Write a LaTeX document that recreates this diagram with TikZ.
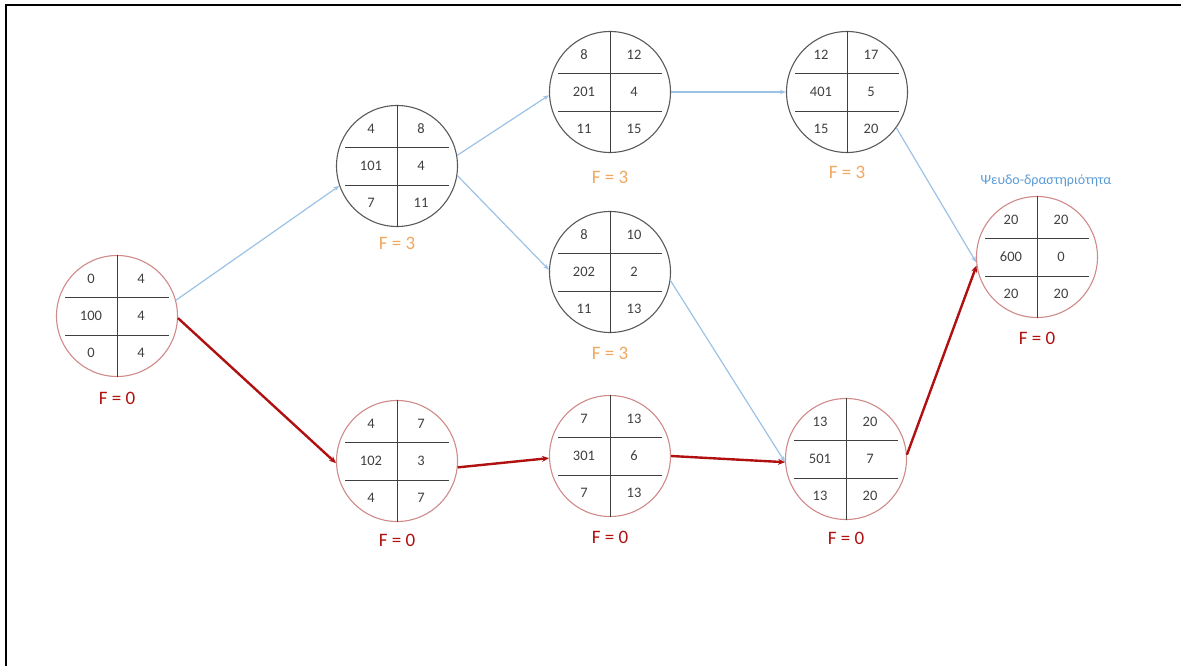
\documentclass[tikz,border=0pt]{standalone}
\usepackage{fontspec}
\setmainfont{Carlito}
\usetikzlibrary{arrows.meta}

\definecolor{critred}{HTML}{B01010}
\definecolor{critring}{HTML}{D08A8A}
\definecolor{slackring}{HTML}{5A5A5A}
\definecolor{slackblue}{HTML}{9CC2E5}
\definecolor{slackorange}{HTML}{F0A860}
\definecolor{notecolor}{HTML}{5B9BD5}
\definecolor{divider}{HTML}{404040}

\tikzset{
  ring/.style={circle, draw, line width=1.1pt, minimum size=121pt, inner sep=0pt},
  critring/.style={ring, draw=critring},
  slackring/.style={ring, draw=slackring},
  cell/.style={font=\fontsize{14.5}{14.5}\selectfont, text=black!75, inner sep=0pt},
  flabel/.style={font=\fontsize{19}{19}\selectfont, inner sep=0pt},
  fcrit/.style={flabel, text=critred},
  fslack/.style={flabel, text=slackorange},
  divline/.style={draw=divider, line width=0.9pt},
  slackarrow/.style={draw=slackblue, line width=1.2pt, -{Stealth[length=6pt,width=4.5pt]}},
  critarrow/.style={draw=critred, line width=2.4pt, -{Stealth[length=7pt,width=6pt]}},
  frameline/.style={draw=black, line width=2.6pt},
}

% one activity: name, centre, ring style, ES, EF, id, duration, LS, LF
\newcommand\activity[9]{%
  \node[#3] (#1) at (#2) {};
  \draw[divline] (#1.north) -- (#1.south);
  \draw[divline] ([xshift=-52pt,yshift=19pt]#1.center) -- ([xshift=52pt,yshift=19pt]#1.center);
  \draw[divline] ([xshift=-52pt,yshift=-19pt]#1.center) -- ([xshift=52pt,yshift=-19pt]#1.center);
  \node[cell] (#1-es) at ([xshift=-26pt,yshift=37pt]#1.center) {#4};
  \node[cell] (#1-ef) at ([xshift=24pt,yshift=37pt]#1.center) {#5};
  \node[cell] (#1-id) at ([xshift=-26pt]#1.center) {#6};
  \node[cell] (#1-du) at ([xshift=24pt]#1.center) {#7};
  \node[cell] (#1-ls) at ([xshift=-26pt,yshift=-37pt]#1.center) {#8};
  \node[cell] (#1-lf) at ([xshift=24pt,yshift=-37pt]#1.center) {#9};
}

\begin{document}
\begin{tikzpicture}[x=1pt,y=-1pt]
  \useasboundingbox (0,0) rectangle (1181,666);

  % frame edges
  \coordinate (fa) at (6,666);
  \coordinate (fb) at (6,5);
  \coordinate (fc) at (1181,5);
  \draw[frameline] (fa) -- (fb) -- (fc);

  % activities
  \activity{n100}{117,316}{critring}{0}{4}{100}{4}{0}{4}
  \activity{n101}{397,166}{slackring}{4}{8}{101}{4}{7}{11}
  \activity{n102}{397,461}{critring}{4}{7}{102}{3}{4}{7}
  \activity{n201}{610,92}{slackring}{8}{12}{201}{4}{11}{15}
  \activity{n202}{610,272}{slackring}{8}{10}{202}{2}{11}{13}
  \activity{n301}{610,456}{critring}{7}{13}{301}{6}{7}{13}
  \activity{n401}{847,92}{slackring}{12}{17}{401}{5}{15}{20}
  \activity{n501}{846,459}{critring}{13}{20}{501}{7}{13}{20}
  \activity{n600}{1037,257}{critring}{20}{20}{600}{0}{20}{20}

  % float labels
  \node[fcrit]  (f100) at (117,398) {F = 0};
  \node[fslack] (f101) at (397,243) {F = 3};
  \node[fcrit]  (f102) at (397,540) {F = 0};
  \node[fslack] (f201) at (610,177) {F = 3};
  \node[fslack] (f202) at (610,353) {F = 3};
  \node[fcrit]  (f301) at (610,537) {F = 0};
  \node[fslack] (f401) at (847,172) {F = 3};
  \node[fcrit]  (f501) at (846,538) {F = 0};
  \node[fcrit]  (f600) at (1037,338) {F = 0};

  \node[font=\fontsize{14}{14}\selectfont, text=notecolor, inner sep=0pt] (note600) at (1046,181) {Ψευδο-δραστηριότητα};

  % non-critical dependencies
  \draw[slackarrow] (n100.15)  -- (n101.199);
  \draw[slackarrow] (n101.10)  -- (n201.183);
  \draw[slackarrow] (n101.351) -- (n202.178);
  \draw[slackarrow] (n201.east) -- (n401.west);
  \draw[slackarrow] (n202.352) -- (n501.183);
  \draw[slackarrow] (n401.324) -- (n600.185);

  % critical path
  \draw[critarrow] (n100.358) -- (n102.182);
  \draw[critarrow] (n102.354) -- (n301.182);
  \draw[critarrow] (n301.0)   -- (n501.183);
  \draw[critarrow] (n501.4)   -- (n600.188);
\end{tikzpicture}
\end{document}
